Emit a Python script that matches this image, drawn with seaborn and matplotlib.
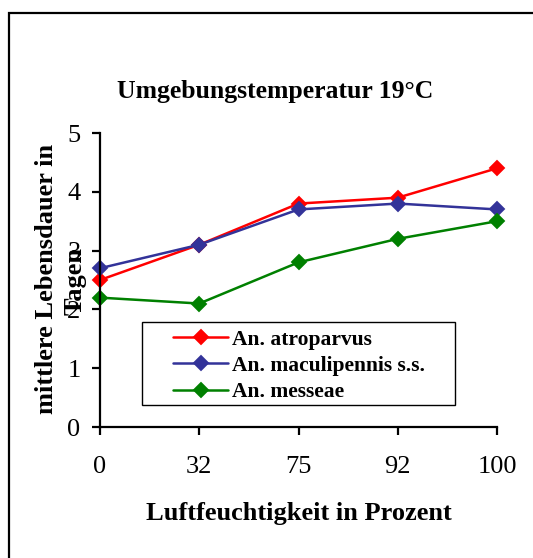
import numpy as np
import pandas as pd
import seaborn as sns
import matplotlib
matplotlib.use("Agg")
import matplotlib.pyplot as plt
from matplotlib.patches import Rectangle

# ---- data ----
humidity = ["0", "32", "75", "92", "100"]
species = ["An. atroparvus", "An. maculipennis s.s.", "An. messeae"]
atroparvus = [2.5, 3.1, 3.8, 3.9, 4.4]
maculipennis = [2.7, 3.1, 3.7, 3.8, 3.7]
messeae = [2.2, 2.1, 2.8, 3.2, 3.5]
colors = ["#FF0000", "#333399", "#008000"]
y_ticks = [0, 1, 2, 3, 4, 5]

df = pd.DataFrame({
    "hum": humidity * 3,
    "val": atroparvus + maculipennis + messeae,
    "sp": [species[0]] * 5 + [species[1]] * 5 + [species[2]] * 5,
})

sns.set_theme(style="white")
plt.rcParams["font.family"] = ["Liberation Serif", "DejaVu Serif"]
plt.rcParams["text.color"] = "black"

W, H = 533, 558
fig = plt.figure(figsize=(W / 100, H / 100), dpi=100)
ax = fig.add_axes([100 / W, 1 - 427 / H, (497 - 100) / W, (427 - 133) / H])

sns.pointplot(data=df, x="hum", y="val", hue="sp", order=humidity, hue_order=species,
              palette=colors, markers="D", linestyles="-", errorbar=None,
              markersize=7, linewidth=1.8, ax=ax)

for art in ax.lines + ax.collections:
    art.set_clip_on(False)

ax.set_xlim(0, 4)
ax.set_ylim(0, 5)
ax.set_yticks(y_ticks)
ax.set_xlabel("")
ax.set_ylabel("")
for s in ["top", "right"]:
    ax.spines[s].set_visible(False)
for s in ["left", "bottom"]:
    ax.spines[s].set_linewidth(1.6)
    ax.spines[s].set_color("black")
ax.tick_params(axis="both", direction="out", length=6, width=1.6, colors="black",
               labelsize=19, left=True, bottom=True)
ax.tick_params(axis="y", pad=8)
ax.tick_params(axis="x", pad=15)

# legend (frame drawn separately)
handles, labels = ax.get_legend_handles_labels()
leg = ax.legend(handles, labels, loc="center left",
                bbox_to_anchor=(173 / W, 1 - 366 / H), bbox_transform=fig.transFigure,
                frameon=False,
                prop={"family": "Liberation Serif", "weight": "bold", "size": 15.5},
                handlelength=2.56, borderpad=0, labelspacing=0.28, handletextpad=0.2,
                borderaxespad=0)
for t in leg.get_texts():
    t.set_color("black")
leg.set_zorder(6)
frame = Rectangle((142 / W, 1 - 405 / H), (455 - 142) / W, (405 - 322) / H,
                  transform=fig.transFigure, fill=True, facecolor="white",
                  edgecolor="black", linewidth=1.0, zorder=5, clip_on=False)
ax.add_artist(frame)

# texts
fig.text(275 / W, 1 - 98 / H, "Umgebungstemperatur 19°C", ha="center", va="baseline",
         fontsize=18.5, fontweight="bold", color="black")
fig.text(299 / W, 1 - 520 / H, "Luftfeuchtigkeit in Prozent", ha="center", va="baseline",
         fontsize=19, fontweight="bold", color="black")
fig.text(47 / W, 1 - 279 / H, "mittlere Lebensdauer in", ha="center", va="center",
         rotation=90, fontsize=19, fontweight="bold", color="black")
fig.text(75 / W, 1 - 281 / H, "Tagen", ha="center", va="center",
         rotation=90, fontsize=19, fontweight="bold", color="black")

# figure border
fig.patches.append(Rectangle((9 / W, -0.05), 1.2, 1 - 13.5 / H + 0.05, transform=fig.transFigure,
                             fill=False, edgecolor="black", linewidth=1.6, zorder=10))

fig.savefig("out.png", dpi=100)
